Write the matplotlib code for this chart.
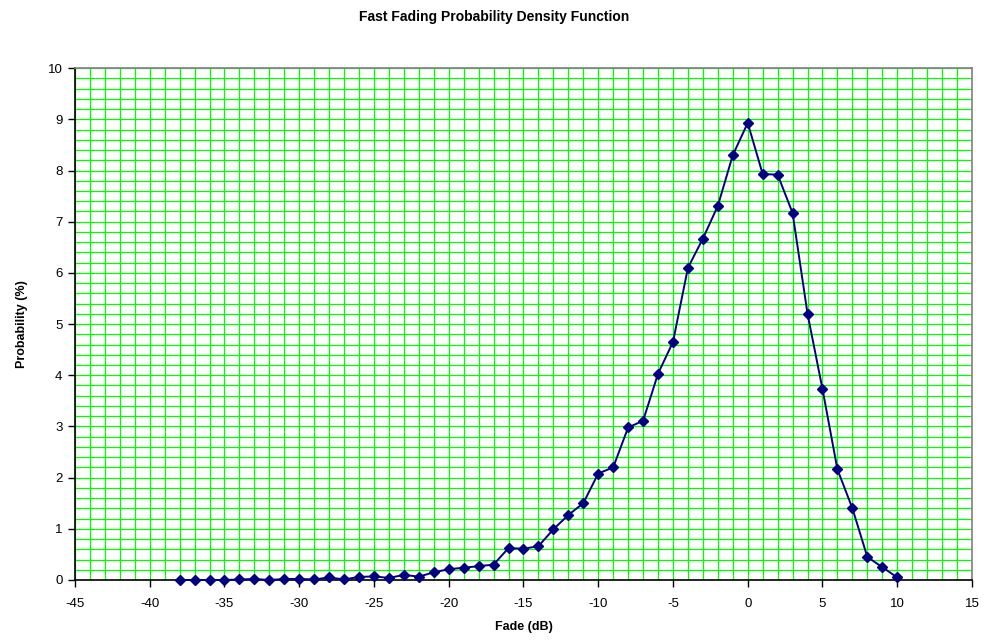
import numpy as np
import matplotlib
matplotlib.use('Agg')
import matplotlib.pyplot as plt
from matplotlib.ticker import MultipleLocator

plt.rcParams['font.family'] = ['Liberation Sans', 'DejaVu Sans']
plt.rcParams['axes.unicode_minus'] = False

# Fade values (dB) and probability (%)
fade_db = [-38, -37, -36, -35, -34, -33, -32, -31, -30, -29, -28, -27, -26, -25,
           -24, -23, -22, -21, -20, -19, -18, -17, -16, -15, -14, -13, -12, -11,
           -10, -9, -8, -7, -6, -5, -4, -3, -2, -1, 0, 1, 2, 3, 4, 5, 6, 7, 8, 9, 10]
prob_pct = [0.0, 0.0, 0.0, 0.0, 0.01, 0.02, 0.0, 0.02, 0.02, 0.01, 0.05, 0.01, 0.06, 0.07,
            0.04, 0.10, 0.065, 0.15, 0.21, 0.24, 0.27, 0.30, 0.625, 0.61, 0.66, 0.99, 1.27, 1.50,
            2.08, 2.20, 2.98, 3.11, 4.03, 4.65, 6.10, 6.67, 7.31, 8.30, 8.93, 7.93, 7.92, 7.17,
            5.20, 3.73, 2.16, 1.40, 0.45, 0.25, 0.05]

fig = plt.figure(figsize=(9.89, 6.43), dpi=100)
ax = fig.add_axes([0.0758, 0.098, 0.907, 0.796])

# grid: every 1 dB and every 0.2 %
ax.xaxis.set_minor_locator(MultipleLocator(1))
ax.yaxis.set_minor_locator(MultipleLocator(0.2))
ax.xaxis.set_major_locator(MultipleLocator(5))
ax.yaxis.set_major_locator(MultipleLocator(1))
ax.grid(which='both', color='#00ff00', lw=0.9)
ax.set_axisbelow(True)

ax.plot(fade_db, prob_pct, color='#000080', lw=1.4, marker='D', markersize=5.5,
        markerfacecolor='#000080', markeredgecolor='#000080', clip_on=False, zorder=3)

ax.set_xlim(-45, 15)
ax.set_ylim(0, 10)

ax.tick_params(which='minor', length=0)
ax.tick_params(which='major', direction='out', length=5, width=1, labelsize=9.5, color='black')
ax.tick_params(axis='x', pad=8)
ax.tick_params(axis='y', pad=4)
for s in ['left', 'bottom']:
    ax.spines[s].set_color('black')
    ax.spines[s].set_linewidth(1.2)
for s in ['top', 'right']:
    ax.spines[s].set_color('#808080')
    ax.spines[s].set_linewidth(1.2)

ax.set_xlabel('Fade (dB)', fontsize=9, fontweight='bold', labelpad=8)
ax.set_ylabel('Probability (%)', fontsize=9, fontweight='bold', labelpad=14)
fig.suptitle('Fast Fading Probability Density Function', fontsize=10, fontweight='bold', y=0.985)

fig.savefig('out.png', dpi=100)
